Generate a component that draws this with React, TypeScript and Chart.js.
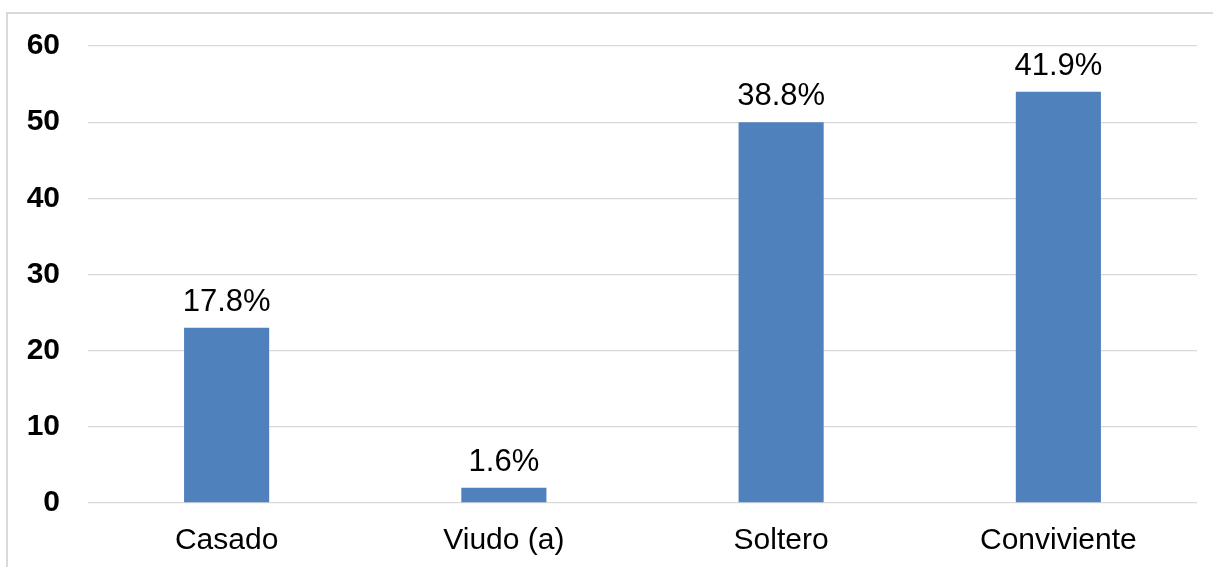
import React, { useEffect, useRef } from "react";
import { Chart, registerables } from "chart.js";

Chart.register(...registerables);

const categories = ["Casado", "Viudo (a)", "Soltero", "Conviviente"];
const values = [23, 2, 50, 54];
const percentLabels = ["17.8%", "1.6%", "38.8%", "41.9%"];
const yTicks = [0, 10, 20, 30, 40, 50, 60];

const FONT = "'Liberation Sans', Arial, sans-serif";

const dataLabelPlugin = {
  id: "dataLabels",
  afterDatasetsDraw(chart: any) {
    const ctx = chart.ctx;
    const meta = chart.getDatasetMeta(0);
    ctx.save();
    ctx.font = `31px ${FONT}`;
    ctx.fillStyle = "#000000";
    ctx.textAlign = "center";
    ctx.textBaseline = "alphabetic";
    meta.data.forEach((bar: any, i: number) => {
      ctx.fillText(percentLabels[i], bar.x, bar.y - 17);
    });
    ctx.restore();
  },
};

export default function App() {
  const canvasRef = useRef<HTMLCanvasElement>(null);

  useEffect(() => {
    if (!canvasRef.current) return;
    const chart = new Chart(canvasRef.current, {
      type: "bar",
      data: {
        labels: categories,
        datasets: [
          {
            data: values,
            backgroundColor: "#4f81bd",
            borderWidth: 0,
            barPercentage: 0.614,
            categoryPercentage: 0.5,
          },
        ],
      },
      options: {
        responsive: false,
        animation: false,
        maintainAspectRatio: false,
        layout: { padding: { left: 0, right: 16, top: 44, bottom: 0 } },
        plugins: {
          legend: { display: false },
          tooltip: { enabled: false },
        },
        scales: {
          x: {
            grid: { display: false, drawTicks: false },
            border: { display: false },
            afterFit: (scale: any) => {
              scale.height = 64;
            },
            ticks: {
              color: "#000000",
              font: { family: FONT, size: 30 },
              padding: 20,
              maxRotation: 0,
            },
          },
          y: {
            min: 0,
            max: 60,
            afterBuildTicks: (scale: any) => {
              scale.ticks = yTicks.map((v) => ({ value: v }));
            },
            afterFit: (scale: any) => {
              scale.width = 88;
            },
            grid: { color: "#d9d9d9", lineWidth: 1.3, drawTicks: false },
            border: { display: false },
            ticks: {
              color: "#000000",
              font: { family: FONT, size: 30, weight: "bold" },
              padding: 28,
            },
          },
        },
      },
      plugins: [dataLabelPlugin],
    });
    return () => chart.destroy();
  }, []);

  return (
    <div
      style={{
        position: "fixed",
        left: 0,
        top: 0,
        width: 1213,
        height: 567,
        background: "#ffffff",
        overflow: "hidden",
      }}
    >
      <div
        style={{
          position: "absolute",
          left: 6,
          top: 12,
          width: 1220,
          height: 600,
          border: "2px solid #d9d9d9",
          boxSizing: "border-box",
        }}
      />
      <canvas
        ref={canvasRef}
        width={1213}
        height={567}
        style={{ position: "absolute", left: 0, top: 0 }}
      />
    </div>
  );
}
